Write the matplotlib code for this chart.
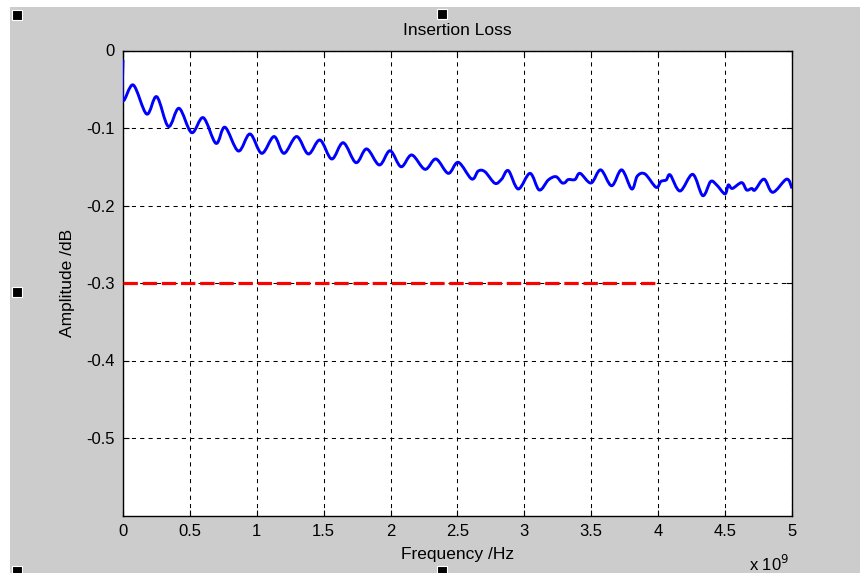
import matplotlib
matplotlib.use("Agg")
import matplotlib.pyplot as plt
from matplotlib.patches import Rectangle, PathPatch
from matplotlib.path import Path

plt.rcParams['font.family'] = ['Liberation Sans', 'DejaVu Sans']

# Frequency in units of 1e9 Hz, amplitude in dB
freq_ghz = [0.0, 0.0, 0.077, 0.177, 0.252, 0.339, 0.419, 0.513, 0.600, 0.695,
            0.762, 0.862, 0.949, 1.037, 1.129, 1.203, 1.298, 1.385, 1.472, 1.560,
            1.646, 1.741, 1.821, 1.916, 1.996, 2.078, 2.158, 2.257, 2.339, 2.431,
            2.506, 2.606, 2.655, 2.705, 2.780, 2.830, 2.880, 2.954, 3.042, 3.111,
            3.179, 3.236, 3.279, 3.303, 3.328, 3.378, 3.416, 3.498, 3.570, 3.652,
            3.727, 3.802, 3.844, 3.901, 3.984, 4.020, 4.060, 4.090, 4.163, 4.258,
            4.333, 4.392, 4.437, 4.499, 4.524, 4.554, 4.624, 4.661, 4.699, 4.723,
            4.791, 4.856, 4.960, 5.000]
amp_db = [-0.012, -0.064, -0.0445, -0.082, -0.0596, -0.098, -0.0746, -0.106, -0.0867, -0.1198,
          -0.099, -0.1297, -0.1077, -0.1327, -0.111, -0.1327, -0.111, -0.1335, -0.1155, -0.140,
          -0.119, -0.1447, -0.127, -0.1477, -0.1293, -0.150, -0.1348, -0.1533, -0.140, -0.1585,
          -0.1443, -0.1658, -0.1555, -0.1564, -0.1714, -0.166, -0.155, -0.1787, -0.1585, -0.180,
          -0.167, -0.1628, -0.1705, -0.1705, -0.1665, -0.1665, -0.1585, -0.171, -0.154, -0.1745,
          -0.154, -0.1787, -0.162, -0.1593, -0.1765, -0.169, -0.167, -0.1606, -0.1813, -0.1598,
          -0.1873, -0.169, -0.1735, -0.185, -0.1735, -0.178, -0.1705, -0.180, -0.178, -0.180,
          -0.166, -0.183, -0.166, -0.178]

limit_freq = [0.0, 4.0]
limit_db = [-0.3, -0.3]

x_ticks = [0, 0.5, 1, 1.5, 2, 2.5, 3, 3.5, 4, 4.5, 5]
x_tick_labels = ['0', '0.5', '1', '1.5', '2', '2.5', '3', '3.5', '4', '4.5', '5']
y_ticks = [0, -0.1, -0.2, -0.3, -0.4, -0.5]
y_tick_labels = ['0', '-0.1', '-0.2', '-0.3', '-0.4', '-0.5']


def smooth_path(xs, ys):
    """Curved path through the points (Catmull-Rom segments as cubic Beziers)."""
    pts = list(zip(xs, ys))
    n = len(pts)
    verts = [pts[0]]
    codes = [Path.MOVETO]
    for i in range(n - 1):
        p0 = pts[i - 1] if i > 0 else pts[i]
        p1 = pts[i]
        p2 = pts[i + 1]
        p3 = pts[i + 2] if i + 2 < n else pts[i + 1]
        c1 = (p1[0] + (p2[0] - p0[0]) / 6, p1[1] + (p2[1] - p0[1]) / 6)
        c2 = (p2[0] - (p3[0] - p1[0]) / 6, p2[1] - (p3[1] - p1[1]) / 6)
        verts += [c1, c2, p2]
        codes += [Path.CURVE4] * 3
    return Path(verts, codes)


W, H = 862, 573
fig = plt.figure(figsize=(W / 100, H / 100), dpi=100)
fig.patch.set_facecolor('white')
fig.patches.append(Rectangle((10 / W, 0), 850 / W, 566 / H, transform=fig.transFigure,
                             facecolor='#cccccc', edgecolor='none', zorder=-10))
# selection handles
for hx, hy in [(12, 10), (437, 9), (12, 287), (12, 566), (437, 566)]:
    fig.patches.append(Rectangle((hx / W, 1 - (hy + 10) / H), 10 / W, 10 / H,
                                 transform=fig.transFigure, facecolor='black',
                                 edgecolor='white', lw=0.8, zorder=5))

ax = fig.add_axes([123 / W, 1 - 515.5 / H, 669 / W, 465 / H])
ax.set_facecolor('white')
ax.add_patch(PathPatch(smooth_path(freq_ghz, amp_db), facecolor='none',
                       edgecolor='#0000ff', lw=2.1, joinstyle='round', zorder=3))
ax.plot(limit_freq, limit_db, color='#ff0000', lw=2.3, linestyle=(0, (4.5, 1.5)),
        dash_capstyle='butt', zorder=3)

ax.set_xlim(0, 5)
ax.set_ylim(-0.6, 0)
ax.set_xticks(x_ticks)
ax.set_xticklabels(x_tick_labels)
ax.set_yticks(y_ticks)
ax.set_yticklabels(y_tick_labels)
ax.tick_params(direction='in', length=4, width=0.8, labelsize=12, pad=6,
               top=True, right=True, colors='black')
ax.grid(True, color='black', linestyle=(0, (4, 4)), linewidth=0.75)
for s in ax.spines.values():
    s.set_linewidth(1.0)
    s.set_color('black')

ax.set_title('Insertion Loss', fontsize=12.5, pad=11)
ax.set_xlabel('Frequency /Hz', fontsize=12.5, labelpad=6)
ax.set_ylabel('Amplitude /dB', fontsize=12.5, labelpad=8)
fig.text(749 / W, 1 - 564 / H, r'x 10$^{9}$', fontsize=12, va='center', ha='left')

fig.savefig('out.png', dpi=100, facecolor=fig.get_facecolor())
